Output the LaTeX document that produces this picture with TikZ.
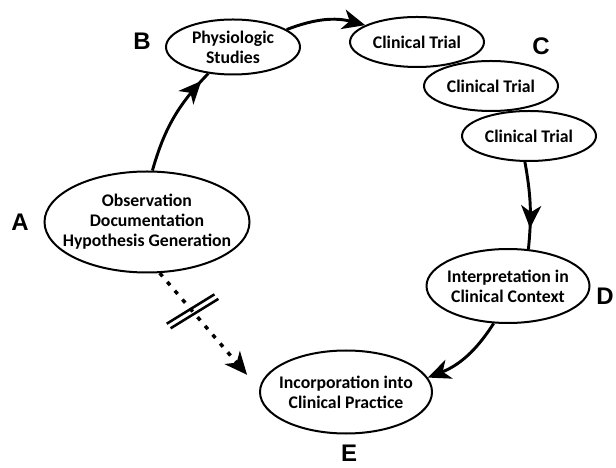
\documentclass[tikz,border=0pt]{standalone}
\usepackage{fontspec}
\setmainfont{Carlito}
\newfontfamily\lettfont{Liberation Sans}
\usepackage{tikz}
\usetikzlibrary{shapes.geometric}
\usetikzlibrary{arrows.meta}
\usetikzlibrary{decorations.markings}
\tikzstyle{oval}=[ellipse,draw,fill=white,line width=1.5pt,inner xsep=-40pt,inner ysep=-20pt,align=center,font=\fontsize{13.3}{15}\selectfont\bfseries]
\tikzstyle{flow}=[draw,line width=2.2pt]
\tikzstyle{dotline}=[draw,line width=2.6pt,dash pattern=on 3.2pt off 5.5pt]
\tikzstyle{letter}=[inner sep=0pt,font=\fontsize{18}{18}\selectfont\lettfont\bfseries]
\tikzset{sz/.style 2 args={minimum width=#1*0.75pt,minimum height=#2*0.75pt}}
\tikzset{tip/.style={-{Stealth[length=17pt,width=15pt,inset=5pt]}}}
\tikzset{midtip/.style={postaction={decorate},decoration={markings,
   mark=at position #1 with {\arrow{Stealth[length=17pt,width=15pt,inset=5pt]}}}}}
\tikzset{cutmark/.style={postaction={decorate},decoration={markings,
   mark=at position #1 with {\draw[-,solid,shorten >=0pt,line width=1.9pt] (-7.4,-27.7)--(1.4,27.7) (-1.4,-27.7)--(7.4,27.7);}}}}

\begin{document}
\begin{tikzpicture}[x=0.75pt,y=0.75pt]

  \useasboundingbox (0,0) rectangle (616,467);

  % stages
  \node[oval,sz={205}{101}] (obs) at (147,245) {Observation\\Documentation\\Hypothesis Generation};
  \node[oval,sz={134}{55}] (phys) at (233,420) {Physiologic\\Studies};

  \foreach \x/\y/\name in {417/425/trialA, 491/381/trialB, 529/331/trialC}
          \node[oval,sz={134}{50}] (\name) at (\x,\y) {Clinical Trial};

  \node[oval,sz={163}{74}] (interp) at (508,181) {Interpretation in\\Clinical Context};
  \node[oval,sz={172}{83}] (incorp) at (346,75) {Incorporation into\\Clinical Practice};

  % letters
  \foreach \x/\y/\label in {20/245/A, 142/426/B, 541/421/C, 605/171/D, 349/14/E}
          \node[letter] (let\label) at (\x,\y) {\label};

  % connectors
  \path[flow,midtip=0.91] (obs.84) to[bend left=14] (phys.227);
  \path[flow,tip] (phys.18) to[bend left=18] (trialA.162);
  \path[flow,midtip=0.76] (trialC.261) to[bend left=8] (interp.61);
  \path[flow,tip] (interp.249) to[bend left=18] (incorp.10);

  \path[dotline,tip,shorten >=14pt,cutmark=0.33] (obs.284) -- (incorp.178);

\end{tikzpicture}
\end{document}
